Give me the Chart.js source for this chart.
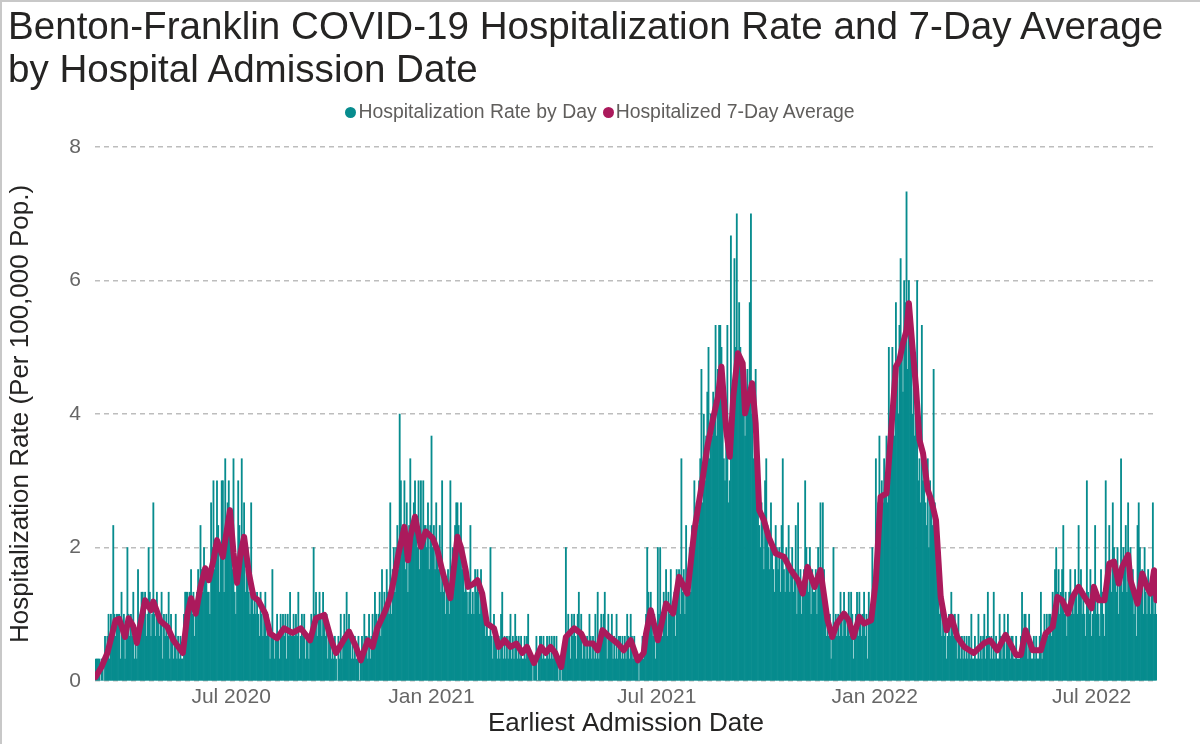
<!DOCTYPE html>
<html>
<head>
<meta charset="utf-8">
<title>Benton-Franklin COVID-19 Hospitalization Rate</title>
<script src="https://cdn.jsdelivr.net/npm/chart.js@4/dist/chart.umd.min.js"></script>
<style>
    html, body { margin: 0; padding: 0; background: #fff; }
    body { width: 1200px; height: 744px; position: relative; overflow: hidden; font-family: 'Liberation Sans', Arial, sans-serif; }
    #frame { position: absolute; left: 0; top: 0; width: 1198px; height: 742px; border-left: 2px solid #c8c8c8; border-top: 2px solid #c8c8c8; pointer-events: none; }
    #title { position: absolute; left: 8px; top: 4px; font-size: 38.6px; line-height: 43px; color: #252423; white-space: nowrap; }
    #legend { position: absolute; left: 0; top: 99px; width: 1200px; text-align: center; font-size: 19.4px; line-height: 24px; color: #605e5c; }
    #legend span.item { display: inline-block; margin: 0 3px; }
    #legend span.dot { display: inline-block; width: 11px; height: 11px; border-radius: 50%; margin-right: 2px; vertical-align: 0px; }
    canvas { position: absolute; left: 0; top: 0; }
</style>
</head>
<body>
<canvas id="chart" width="1200" height="744"></canvas>
<div id="title">Benton-Franklin COVID-19 Hospitalization Rate and 7-Day Average<br>by Hospital Admission Date</div>
<div id="legend"></div>
<div id="frame"></div>
<script>
const TEAL = '#078c8e';
const CRIMSON = '#ab1a5c';

// one bar per day, day 0 = early March 2020 (rate per 100,000)
const dailyRate = [
    .33,.33,.33,.33,0,.33,.33,0,.67,.33,
    .67,1,.33,1,.67,2.33,1,.67,1,1,
    1,.33,1.33,.67,1,.33,.67,2,1,.67,
    1,.67,1.33,.33,.67,.33,1.67,.67,1,1.33,
    1.33,1,1.33,.67,1,2,1.33,.67,1,2.67,
    1,.67,1.33,1,.67,1,1.33,.33,1,.67,
    1,.67,1.33,.33,1,.67,.33,.67,1,.33,
    .67,.33,.67,.33,.33,1,1.33,1.33,1.33,1,
    1.33,1.67,1,1.33,.67,1,1.33,1.67,1.33,2.33,
    1.67,1.33,2,1.67,1.67,1.33,1.33,1,2.67,2,
    3,1.67,2,3,2.33,1.33,2,3,3,1.33,
    3.33,2,2.67,3,2.33,2,1.67,3.33,1.33,1,
    1.67,3,2.33,2,3.33,2,2.67,1.33,1.67,2,
    1.33,1,2.67,1.33,1,1.33,1,1.33,1,.67,
    1.33,1,.67,1,1.33,.67,1,.67,.33,.67,
    1.67,.67,.33,.67,1,.67,.33,1,.67,1,
    .67,1,.33,1,.67,1.33,.67,.67,1,.67,
    1,.67,1.33,.33,.67,1,.67,1,.33,.67,
    .67,.33,.67,1,.67,2,1,1.33,.67,1,
    1.33,1,.67,1.33,1,.67,1,.33,.67,.67,
    .33,.67,.33,.67,.33,0,.67,.33,1,.33,
    .67,1,.67,1.33,.67,1,.67,.33,.67,.33,
    .67,.33,.33,.67,0,.33,.67,.33,1,.67,
    .67,.33,1,.33,.67,1,.67,1.33,1,.67,
    1,1.33,.67,1.67,1,1.33,1,1.67,1.33,1,
    2.67,1,1.67,2,1.33,2,2.33,1.67,4,3,
    2,2.33,3,1.67,2.67,1.33,2.33,3.33,2,2.33,
    2.67,3,2.33,2,3,1.67,3,2,3,2.33,
    2.33,2,2.67,1.67,2.33,3.67,2,2.33,1.67,2.67,
    2,1.67,2.33,1.33,3,1.33,1.67,1,1.33,1.67,
    1,3,1.33,2,1.67,2.33,2.67,2.67,2.33,2,
    2.67,1.67,2,1.33,1.67,1.33,1,1.33,2.33,1,
    1.33,1,1.67,1.33,1.67,1.33,1,1.67,1.33,1,
    1,.67,1,.67,.67,2,.67,.33,1,.67,
    .67,.33,.67,.33,1,1.33,.33,.67,.33,.67,
    .33,.67,1,.33,.67,.33,1,.67,.33,.67,
    .33,.67,.33,.33,.67,.33,.67,1,.33,.33,
    .33,0,.33,.33,.67,0,.33,.67,.67,.33,
    .67,.33,.33,.67,.33,.67,.33,.67,.33,.67,
    .33,.67,.33,0,.33,0,.33,.33,.67,2,
    .67,1,.67,.33,1,.67,1,.67,.33,1,
    1.33,.67,1,.33,.67,.67,.33,.67,.33,1,
    .67,.33,.67,.33,1,.33,1.33,.33,.67,1,
    .67,1,1.33,.67,.33,1,.67,.67,1,.33,
    .67,.33,1,.33,.67,.67,.33,.67,.33,.67,
    .33,1,.67,.33,1,.67,.33,.67,.33,.33,
    .33,0,.33,.33,.67,.33,.67,1,2,1.33,
    1,1.33,1,.67,1,.33,.67,2,1,2,
    1,.67,1.33,1,1.67,.67,1.33,1,1.67,1,
    1,1.33,.67,1.67,1.33,1.67,1,3.33,1.33,1.67,
    1,2.33,1.33,1.67,2,1.33,2.33,2,3,2.33,
    2.67,2.33,3,3.33,4.67,2.67,4,3,3.67,4.33,
    5,3.33,4,3.67,4.33,4,5.33,3.67,4.67,5.33,
    5.33,5,4,3.33,3,3.67,5.33,2.67,3,6.67,
    4,4.33,6.33,5,7,4.67,5.67,5,4.33,4,
    4.33,3.67,4,4.67,4.33,5.67,7,4,3.33,3.67,
    4.67,3,2.67,2.33,2,2.67,2.33,1.67,3,3.33,
    2.33,2,1.67,2.67,2,1.67,1.33,2.33,2,1.67,
    2,1.33,2.33,3.33,1.67,1.33,2,1.67,2.33,1.33,
    1.67,2,1.33,1.67,2.33,1,2.67,1.33,1.67,1,
    1.33,1.67,3,2,1.67,1.33,2,1,1.67,1.33,
    1.33,1.67,1,2,1.67,2.67,1.33,2.67,1.67,1,
    .67,1,.67,1,.33,.67,2,.67,1,.67,
    1,.67,1.33,1,.67,1.33,1,.67,1,1.33,
    .67,1.33,1,.33,.67,1,1.33,.67,1.33,1,
    .67,1,1.33,.67,1,.33,1.33,1,1,2,
    1.33,1.67,3.33,2,2.67,3.67,2.33,3,2.67,3.33,
    3,3.67,2.67,5,3.33,4,5,4.33,3.67,5.67,
    4.67,4,5.33,6.33,5,4.33,6,5.67,7.33,4.67,
    6,5.33,5,4,4.67,3.67,4.33,6,3,3.33,
    2.67,5.33,3,3.33,2.67,2.33,3.33,2,3,2.67,
    2.33,4.67,2.67,2,1.67,1.33,1,1.33,.67,1,
    .67,1,.33,.67,1,.67,1.33,1,.67,1,
    .67,.33,1,.67,.33,.67,.33,.67,.33,.67,
    .33,.67,.33,1,.33,.33,.67,.33,.33,1,
    .33,.67,.33,.67,1,.33,.67,1.33,.67,.33,
    .67,.33,1.33,.33,.67,.33,.33,1,.67,.33,
    .67,1,.33,.67,1,.67,.33,.67,.67,.33,
    .33,.67,.33,.33,.33,.67,1.33,.67,1,1,
    .67,.33,1,.67,.33,.33,.67,.33,.67,.33,
    .33,.67,1.33,.33,.67,1,.67,1,.67,1,
    1,.67,1.33,1,1.67,2,1.33,1.67,1,1.33,
    1.67,2.33,1,1.33,.67,1,1.33,1.67,1,1.33,
    1,1.67,1.33,1,2.33,1.33,1.67,1,1.33,1,
    .67,3,1.33,1,1.67,.67,1,1.33,2.33,1,
    1.33,1,.67,1.67,1.33,1,.67,3,1.33,1.67,
    2.33,1.67,1.33,2.67,2,1.67,1.33,2,1,1.67,
    3.33,1.33,2,1.67,2.33,1.33,2.67,1.67,2,1.33,
    1.67,1,1.33,.67,2.33,2.67,2,1.33,1.67,1,
    2,1.33,1,1.67,1.33,1,1.33,2.67,1,1.67,1
];

// 7-day average (day index, rate)
const avgDays = [
    0,5,10,17,20,25,28,32,35,38,42,47,49,55,61,66,74,78,81,85,
    89,93,96,100,103,108,110,114,117,120,123,126,130,134,138,144,148,154,160,167,
    174,182,187,194,200,204,210,215,221,225,231,235,239,246,250,253,257,262,265,267,
    271,276,280,286,290,294,298,301,307,310,314,316,321,324,328,332,338,342,347,352,
    357,362,366,372,378,382,386,390,395,399,406,412,416,422,426,430,436,443,448,454,
    460,465,467,471,477,484,490,495,502,508,514,519,523,528,531,535,538,541,545,549,
    551,557,560,563,567,571,577,584,590,596,600,604,610,615,621,625,629,635,639,643,
    648,652,658,662,666,671,675,679,682,685,688,690,693,696,699,702,706,709,713,717,
    722,726,731,737,745,754,759,765,772,781,785,789,795,802,806,812,816,820,825,829,
    834,839,845,847,851,856,860,864,868,871,876,878,884,888,892,895,898,900
];
const avgRate = [
    .06,.21,.42,.91,.93,.66,.94,.82,.57,.85,1.21,1.06,1.19,.9,.81,.61,.42,1.01,1.24,1.01,
    1.41,1.69,1.51,1.81,2.11,1.86,2.11,2.56,1.92,1.47,1.92,2.16,1.62,1.26,1.21,1.01,.71,.64,.79,.72,
    .79,.61,.94,.99,.61,.42,.6,.74,.51,.31,.61,.51,.79,1.06,1.26,1.51,1.91,2.31,1.81,2.16,
    2.46,2.01,2.24,2.14,1.96,1.66,1.41,1.24,2.16,2,1.66,1.41,1.46,1.51,1.31,.86,.79,.51,.61,.51,
    .56,.42,.51,.27,.51,.42,.51,.42,.21,.66,.79,.71,.56,.56,.46,.76,.66,.56,.46,.61,
    .31,.42,.71,1.06,.61,1.16,1.01,1.56,1.31,2.26,2.91,3.51,3.86,4.26,4.71,3.76,3.36,4.26,4.91,4.76,
    4.01,4.46,3.86,2.56,2.41,2.16,1.91,1.86,1.66,1.51,1.31,1.71,1.41,1.66,.91,.66,.86,1.01,.91,.66,
    .96,.86,.91,1.51,2.76,2.81,3.76,4.71,4.81,5.06,5.26,5.66,5.01,4.41,3.61,3.41,2.86,2.71,2.41,1.26,
    .76,.96,.66,.51,.42,.57,.61,.46,.69,.39,.39,.76,.46,.46,.71,.81,1.26,1.21,1.01,1.26,
    1.41,1.26,1.09,1.41,1.21,1.21,1.76,1.79,1.46,1.71,1.89,1.51,1.16,1.61,1.41,1.31,1.66,1.21
];

// x axis tick positions (day index) and their labels
const tickDays = [115, 285, 476, 661, 845];
const tickLabels = ['Jul 2020', 'Jan 2021', 'Jul 2021', 'Jan 2022', 'Jul 2022'];
const yTicks = [0, 2, 4, 6, 8];

const FONT = "'Liberation Sans', Arial, sans-serif";

function buildLegend(items) {
    const legend = document.getElementById('legend');
    items.forEach(item => {
        const span = document.createElement('span');
        span.className = 'item';
        const dot = document.createElement('span');
        dot.className = 'dot';
        dot.style.background = item.color;
        span.appendChild(dot);
        span.appendChild(document.createTextNode(item.text));
        legend.appendChild(span);
    });
}

buildLegend([
    { text: 'Hospitalization Rate by Day', color: TEAL },
    { text: 'Hospitalized 7-Day Average', color: CRIMSON }
]);

const ctx = document.getElementById('chart').getContext('2d');
new Chart(ctx, {
    type: 'bar',
    data: {
        datasets: [
            {
                type: 'line',
                label: 'Hospitalized 7-Day Average',
                data: avgDays.map((d, i) => ({ x: d, y: avgRate[i] })),
                borderColor: CRIMSON,
                borderWidth: 6,
                pointRadius: 0,
                tension: 0,
                borderJoinStyle: 'round',
                borderCapStyle: 'round',
                order: 0
            },
            {
                type: 'bar',
                label: 'Hospitalization Rate by Day',
                data: dailyRate.map((v, i) => ({ x: i, y: v })),
                backgroundColor: TEAL,
                barPercentage: 1,
                categoryPercentage: 1,
                order: 1
            }
        ]
    },
    options: {
        responsive: false,
        animation: false,
        layout: { padding: { top: 147, right: 43, bottom: 0, left: 0 } },
        plugins: {
            legend: { display: false },
            title: { display: false },
            tooltip: { enabled: false }
        },
        scales: {
            x: {
                type: 'linear',
                min: -0.5,
                max: dailyRate.length - 0.5,
                offset: false,
                grid: { display: false, drawTicks: false },
                border: { display: false },
                afterBuildTicks: scale => { scale.ticks = tickDays.map(v => ({ value: v })); },
                afterFit: scale => { scale.height = 63; },
                ticks: {
                    autoSkip: false,
                    maxRotation: 0,
                    padding: 4,
                    color: '#666666',
                    font: { family: FONT, size: 21 },
                    callback: value => {
                        const i = tickDays.indexOf(value);
                        return i >= 0 ? tickLabels[i] : '';
                    }
                },
                title: {
                    display: true,
                    text: 'Earliest Admission Date',
                    color: '#252423',
                    font: { family: FONT, size: 26 },
                    padding: { top: 0, bottom: 5 }
                }
            },
            y: {
                min: 0,
                max: 8,
                afterBuildTicks: scale => { scale.ticks = yTicks.map(v => ({ value: v })); },
                afterFit: scale => { scale.width = 95; },
                grid: { color: '#bdbdbd', lineWidth: 1.5, drawTicks: false },
                border: { display: false, dash: [5, 4] },
                ticks: {
                    padding: 14,
                    color: '#666666',
                    font: { family: FONT, size: 21 }
                },
                title: {
                    display: true,
                    text: 'Hospitalization Rate (Per 100,000 Pop.)',
                    color: '#252423',
                    font: { family: FONT, size: 26 },
                    padding: { top: 5, bottom: 0 }
                }
            }
        }
    }
});
</script>
</body>
</html>
